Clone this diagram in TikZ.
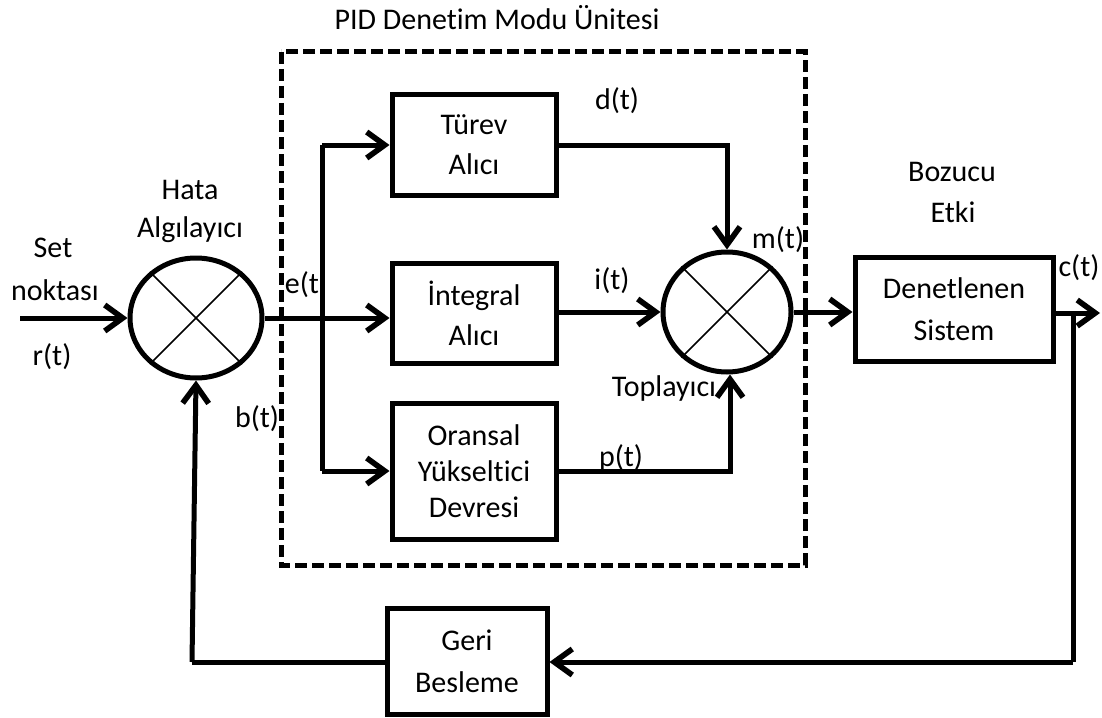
\documentclass[tikz,border=0pt]{standalone}
\usepackage{fontspec}
\setmainfont{Carlito}[Ligatures=NoCommon]
\usepackage{tikz}
\usetikzlibrary{arrows.meta,shapes.geometric,calc}

\tikzset{
	blok/.style={draw, line width=2.5pt, align=center, inner sep=0pt},
	toplam/.style={draw, ellipse, line width=2.5pt, inner sep=0pt},
	etiket/.style={inner sep=0pt},
	ok/.style={line width=2.5pt, -{Straight Barb[length=9pt,width=13pt,line width=2.8pt]}},
	hat/.style={line width=2.5pt},
}

\begin{document}
\begin{tikzpicture}[x=0.5pt, y=-0.5pt, font=\fontsize{15}{18}\selectfont]

	\useasboundingbox (0,0) rectangle (1102,717);

	% PID unit frame
	\draw [line width=2.5pt, dash pattern=on 6pt off 2.5pt] (281,52) rectangle (805,565);
	\node[etiket] (pid) at (497,18) {PID Denetim Modu Ünitesi};

	% summing junctions
	\node[toplam, minimum width=66pt, minimum height=60pt] (hata) at (196,318) {};
	\node[toplam, minimum width=64pt, minimum height=60pt] (top) at (727,312) {};
	\foreach \n in {hata, top} {
		\draw [line width=0.8pt] (\n.45) -- (\n.225);
		\draw [line width=0.8pt] (\n.135) -- (\n.315);
	}

	% blocks
	\node[blok, minimum width=82pt, minimum height=50pt] (turev) at (474,145) {Türev\\[2pt]Alıcı};
	\node[blok, minimum width=82pt, minimum height=50pt] (integ) at (474,313) {İntegral\\[2pt]Alıcı};
	\node[blok, minimum width=82pt, minimum height=68pt] (oran) at (474,471) {Oransal\\Yükseltici\\Devresi};
	\node[blok, minimum width=99pt, minimum height=52pt] (sistem) at (954,309) {Denetlenen\\[3pt]Sistem};
	\node[blok, minimum width=80pt, minimum height=53pt] (geri) at (467,661) {Geri\\[3pt]Besleme};

	% helper points
	\coordinate (giris) at (20,318);
	\coordinate (dal) at (322,318);
	\coordinate (cikis) at (1100,313);
	\coordinate (ayir) at (1073,313);
	\coordinate (donus) at (1073,662);
	\coordinate (sol) at (192,662);

	% signals
	\draw [ok] (giris) -- (hata.west);
	\draw [hat] (hata.east) -- (dal);
	\draw [hat] (dal |- turev) -- (dal |- oran);
	\draw [ok] (dal) -- (dal -| integ.west);
	\draw [ok] (dal |- turev) -- (turev.west);
	\draw [ok] (dal |- oran) -- (oran.west);
	\draw [ok] (turev.east) -| (top.north);
	\draw [ok] (integ.east |- top) -- (top.west);
	\draw [ok] (oran.east) -| ($(top.south)+(3,0)$);
	\draw [ok] (top.east) -- (sistem.west |- top);
	\draw [ok] (sistem.east |- cikis) -- (cikis);
	\draw [hat] (ayir) -- (donus);
	\draw [ok] (donus) -- (geri.east |- donus);
	\draw [hat] (geri.west |- sol) -- (sol);
	\draw [ok] (sol) -- (hata.south);

	% labels
	\node[etiket] (hata1) at (190,190) {Hata};
	\node[etiket] (hata2) at (190,230) {Algılayıcı};
	\node[etiket] (set1) at (53,248) {Set};
	\node[etiket] (set2) at (55,290) {noktası};
	\node[etiket] (rt) at (52,357) {r(t)};
	\node[etiket] (et) at (302,285) {e(t};
	\node[etiket] (bt) at (257,419) {b(t)};
	\node[etiket] (dt) at (617,101) {d(t)};
	\node[etiket] (it) at (612,281) {i(t)};
	\node[etiket] (pt) at (621,458) {p(t)};
	\node[etiket] (mt) at (778,240) {m(t)};
	\node[etiket] (topl) at (664,388) {Toplayıcı};
	\node[etiket] (boz1) at (952,172) {Bozucu};
	\node[etiket] (boz2) at (953,212) {Etki};
	\node[etiket] (ct) at (1079,268) {c(t)};

\end{tikzpicture}
\end{document}
